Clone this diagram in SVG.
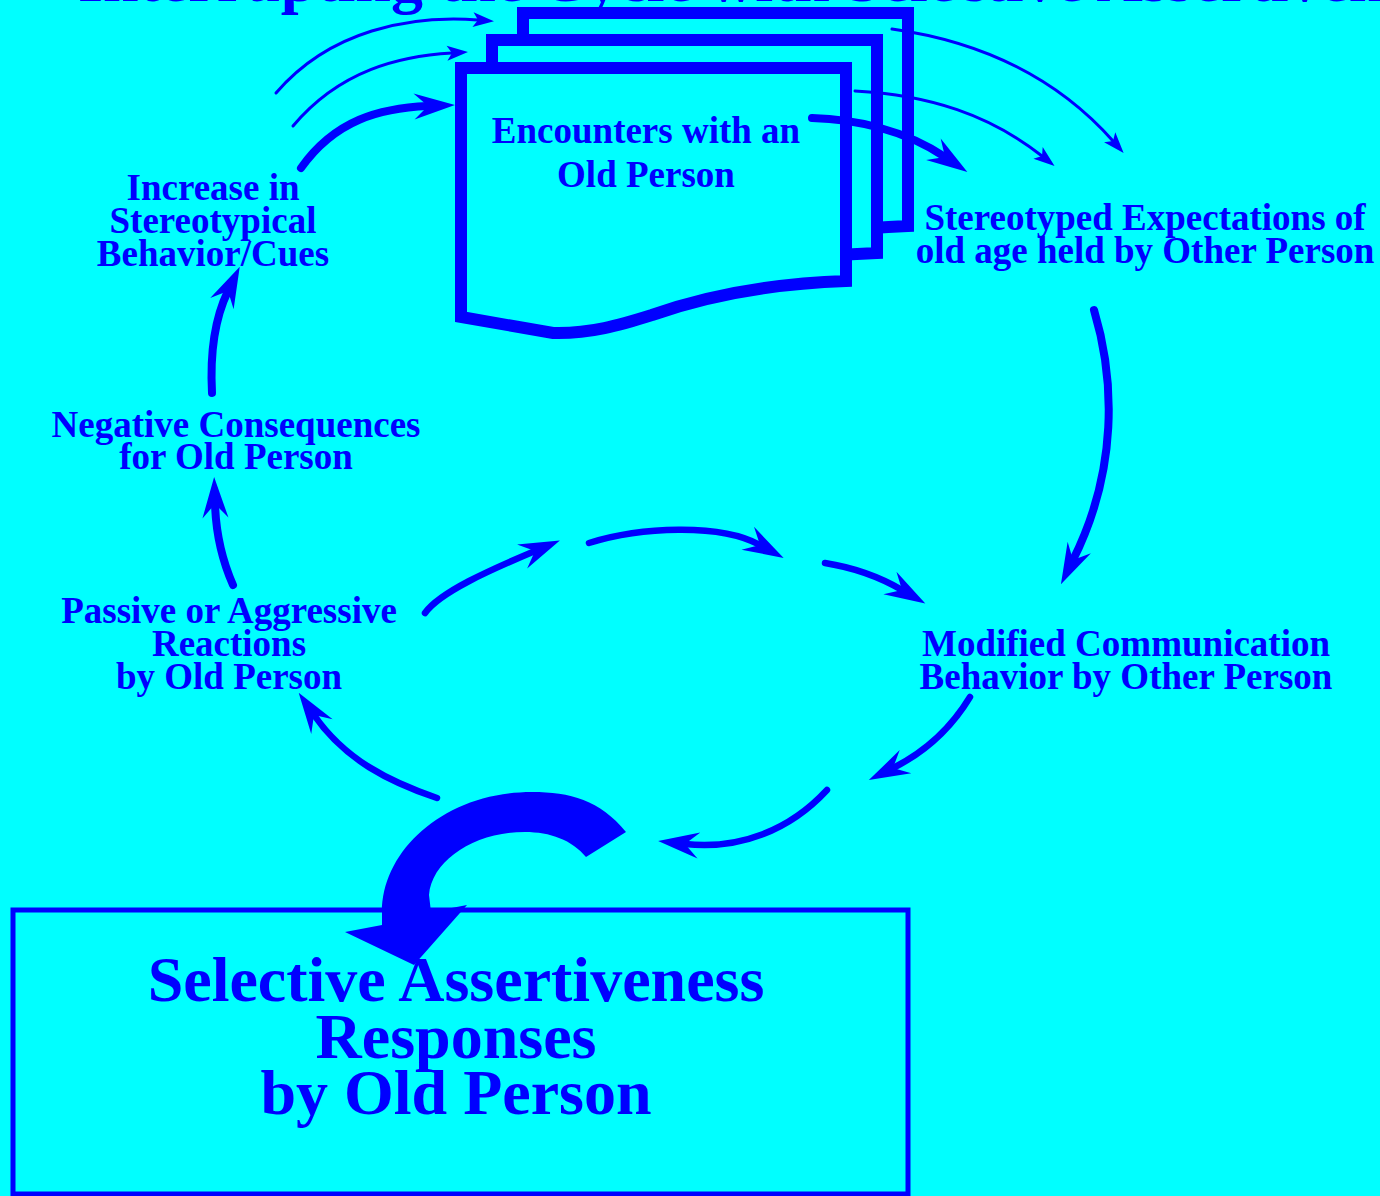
<svg xmlns="http://www.w3.org/2000/svg" width="1380" height="1196" viewBox="0 0 1380 1196">
<style>
.lbl{font-family:"Liberation Serif","Times New Roman",serif;font-weight:bold;font-size:37px;fill:#0000ff;text-anchor:middle}
.big{font-family:"Liberation Serif","Times New Roman",serif;font-weight:bold;font-size:64px;fill:#0000ff}
.doc{fill:#00ffff;stroke:#0000ff;stroke-width:12;stroke-linejoin:miter}
.c{fill:none;stroke:#0000ff;stroke-linecap:round}
.thick{stroke-width:8;marker-end:url(#ah)}
.med{stroke-width:6.5;marker-end:url(#ah)}
.thin{stroke-width:3;marker-end:url(#as)}
</style>
<defs>
<marker id="ah" markerUnits="userSpaceOnUse" orient="auto" viewBox="-20 -20 50 40" markerWidth="50" markerHeight="40" refX="0" refY="0">
<path d="M27,0 L-14,-13 L0,0 L-14,13 Z" fill="#0000ff"/>
</marker>
<marker id="as" markerUnits="userSpaceOnUse" orient="auto" viewBox="-10 -10 30 20" markerWidth="30" markerHeight="20" refX="0" refY="0">
<path d="M16,0 L-5,-7.5 L0,0 L-5,7.5 Z" fill="#0000ff"/>
</marker>
<path id="docshape" d="M461,68 H846 V281 C 760,284 700,298 652,315 C 620,325 590,334 553,333 L461,317 Z"/>
</defs>
<rect x="0" y="0" width="1380" height="1196" fill="#00ffff"/>
<text class="big" x="78" y="1">Interrupting the Cycle with Selective Assertiveness</text>

<g id="encounters">
<use href="#docshape" class="doc" transform="translate(62,-55)"/>
<use href="#docshape" class="doc" transform="translate(31,-28)"/>
<use href="#docshape" class="doc"/>
<text class="lbl" x="646" y="143">Encounters with an</text>
<text class="lbl" x="646" y="187">Old Person</text>
</g>

<g id="stereotyped">
<text class="lbl" x="1145" y="230">Stereotyped Expectations of</text>
<text class="lbl" x="1145" y="263">old age held by Other Person</text>
</g>

<g id="increase">
<text class="lbl" x="213" y="200">Increase in</text>
<text class="lbl" x="213" y="233">Stereotypical</text>
<text class="lbl" x="213" y="266">Behavior/Cues</text>
</g>

<g id="negative">
<text class="lbl" x="236" y="437">Negative Consequences</text>
<text class="lbl" x="236" y="469">for Old Person</text>
</g>

<g id="passive">
<text class="lbl" x="229" y="623">Passive or Aggressive</text>
<text class="lbl" x="229" y="656">Reactions</text>
<text class="lbl" x="229" y="689">by Old Person</text>
</g>

<g id="modified">
<text class="lbl" x="1126" y="656">Modified Communication</text>
<text class="lbl" x="1126" y="689">Behavior by Other Person</text>
</g>

<g id="selective">
<rect x="13" y="910" width="895" height="284" fill="#00ffff" stroke="#0000ff" stroke-width="5"/>
<text class="big" x="456" y="1001" text-anchor="middle">Selective Assertiveness</text>
<text class="big" x="456" y="1058" text-anchor="middle">Responses</text>
<text class="big" x="456" y="1114" text-anchor="middle">by Old Person</text>
</g>

<g id="connectors">
<path class="c thin" d="M276,93 C 330,30 410,15 478,20"/>
<path class="c thin" d="M293,126 C 340,70 400,56 452,53"/>
<path class="c thick" d="M301,168 C 335,120 380,108 428,106"/>
<path class="c thick" d="M812,118 C 855,119 905,130 945,157"/>
<path class="c thin" d="M855,91 C 930,95 990,115 1042,156"/>
<path class="c thin" d="M892,29 C 970,40 1050,70 1113,141"/>
<path class="c thick" d="M1094,310 C 1115,380 1118,470 1073,560"/>
<path class="c thick" d="M212,393 C 210,355 214,320 228,291"/>
<path class="c thick" d="M233,585 C 222,560 216,535 215,504"/>
<path class="c med" d="M425,613 C 440,592 490,570 535,551"/>
<path class="c med" d="M589,543 C 640,527 720,523 760,545"/>
<path class="c med" d="M825,563 C 850,567 878,576 902,590"/>
<path class="c med" d="M970,697 C 950,730 925,752 893,768"/>
<path class="c med" d="M827,790 C 790,830 740,850 685,844"/>
<path class="c med" d="M437,798 C 390,782 345,760 314,715"/>
<path d="M626,832 C 600,800 570,792 532,792 C 445,792 382,850 382,912 L382,925 L345,932 L414,965 L467,905 L431,912 L429,895 C 432,860 475,832 525,832 C 550,832 572,840 586,857 Z" fill="#0000ff"/>
</g>
</svg>
